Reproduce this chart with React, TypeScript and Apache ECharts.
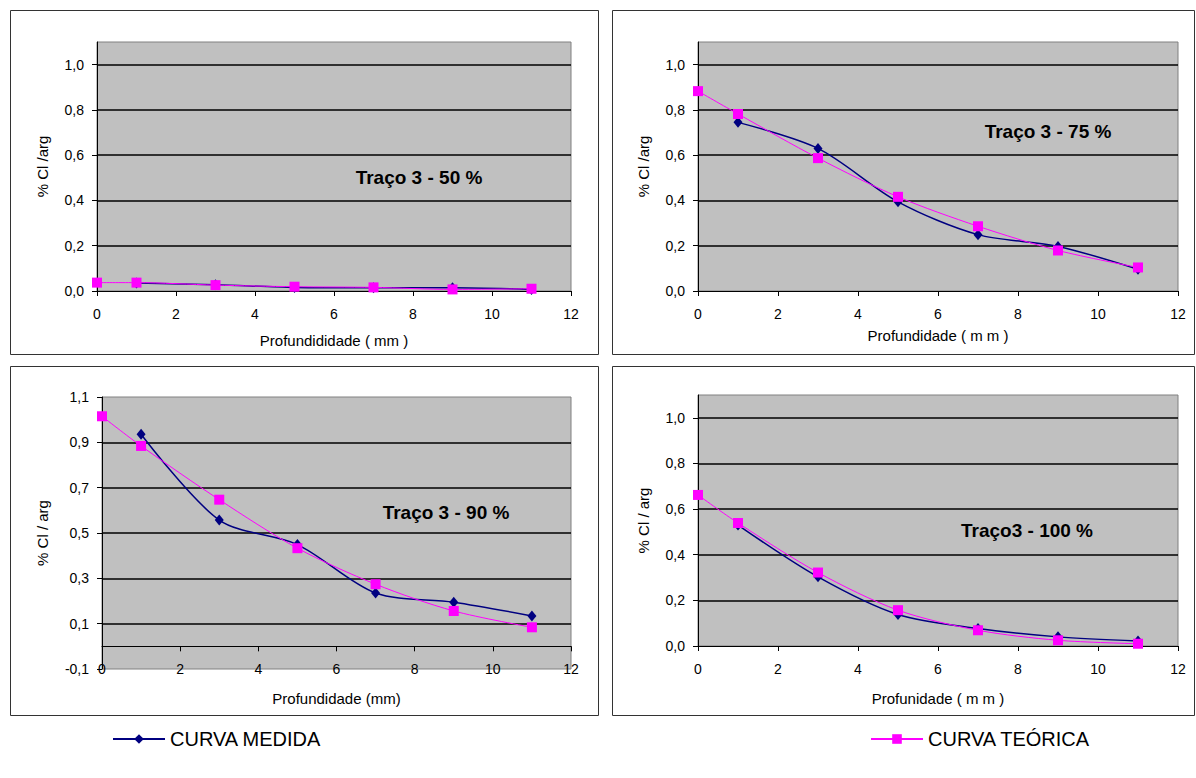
import React, { useEffect, useRef } from 'react';
import * as echarts from 'echarts';

// ---- data ----
const depthMedida = [1, 3, 5, 7, 9, 11];
const depthTeorica = [0, 1, 3, 5, 7, 9, 11];

const medida50 = [0.035, 0.028, 0.016, 0.014, 0.014, 0.007];
const teorica50 = [0.037, 0.037, 0.026, 0.019, 0.016, 0.007, 0.01];
const medida75 = [0.745, 0.63, 0.394, 0.249, 0.197, 0.096];
const teorica75 = [0.883, 0.782, 0.587, 0.416, 0.286, 0.179, 0.104];
const medida90 = [0.936, 0.557, 0.449, 0.235, 0.195, 0.134];
const teorica90 = [1.015, 0.884, 0.647, 0.433, 0.274, 0.156, 0.084];
const medida100 = [0.53, 0.303, 0.138, 0.077, 0.04, 0.022];
const teorica100 = [0.662, 0.539, 0.322, 0.157, 0.069, 0.025, 0.01];

const medidaSets = [medida50, medida75, medida90, medida100];
const teoricaSets = [teorica50, teorica75, teorica90, teorica100];

const panelTitles = ['Traço 3 - 50 %', 'Traço 3 - 75 %', 'Traço 3 - 90 %', 'Traço3 - 100 %'];
const xNames = ['Profundididade ( mm )', 'Profundidade ( m m )', 'Profundidade (mm)', 'Profunidade ( m m )'];
const yNames = ['% Cl /arg', '% Cl /arg', '% Cl / arg', '% Cl / arg'];
const yMins = [0, 0, -0.1, 0];
const yMax = 1.1;
const yStep = 0.2;
const xMin = 0;
const xMax = 12;
const xStep = 2;

const seriesNames = ['CURVA MEDIDA', 'CURVA TEÓRICA'];

// ---- layout ----
const grids = [
  { left: 97, top: 42, width: 474, height: 249 },
  { left: 698, top: 42, width: 480, height: 249 },
  { left: 102, top: 397, width: 469, height: 272 },
  { left: 698, top: 395, width: 480, height: 251 },
];
const panelBoxes = [
  { x: 10.5, y: 10.5, width: 588, height: 344 },
  { x: 612.5, y: 10.5, width: 582, height: 344 },
  { x: 10.5, y: 366.5, width: 588, height: 349 },
  { x: 612.5, y: 366.5, width: 582, height: 349 },
];
const titlePos = [
  [419, 177],
  [1048, 131],
  [446, 512],
  [1027, 530],
];
const yNameGaps = [47, 47, 52, 47];
const xNameGaps = [42, 37, 22, 45];
const xLabelMargins = [16, 16, -7, 16];

const FONT = '"Liberation Sans", Arial, sans-serif';
const BLUE = '#000080';
const PINK = '#ff00ff';

export default function App() {
  const ref = useRef<HTMLDivElement>(null);

  useEffect(() => {
    if (!ref.current) return;
    const chart = echarts.init(ref.current, undefined, { renderer: 'svg' });

    const fmt = (v: number) => v.toFixed(1).replace('.', ',');

    const xAxis = grids.map((_, i) => ({
      type: 'value',
      gridIndex: i,
      min: xMin,
      max: xMax,
      interval: xStep,
      name: xNames[i],
      nameLocation: 'middle',
      nameGap: xNameGaps[i],
      nameTextStyle: { fontFamily: FONT, fontSize: 15, color: '#000' },
      axisLine: { show: true, onZero: true, lineStyle: { color: '#000', width: 1 } },
      axisTick: { show: true, length: 5, lineStyle: { color: '#000' } },
      axisLabel: { fontFamily: FONT, fontSize: 14, color: '#000', margin: xLabelMargins[i] },
      splitLine: { show: false },
    }));

    const yAxis = grids.map((_, i) => ({
      type: 'value',
      gridIndex: i,
      min: yMins[i],
      max: yMax,
      interval: yStep,
      name: yNames[i],
      nameLocation: 'middle',
      nameGap: yNameGaps[i],
      nameTextStyle: { fontFamily: FONT, fontSize: 15, color: '#000' },
      axisLine: { show: true, lineStyle: { color: '#000', width: 1 } },
      axisTick: { show: true, length: 5, lineStyle: { color: '#000' } },
      axisLabel: {
        fontFamily: FONT,
        fontSize: 14,
        color: '#000',
        margin: 13,
        showMaxLabel: i === 2,
        formatter: (v: number) => fmt(v),
      },
      splitLine: {
        show: true,
        showMinLine: false,
        showMaxLine: false,
        lineStyle: { color: '#000', width: 1.5 },
      },
    }));

    const series: any[] = [];
    grids.forEach((_, i) => {
      series.push({
        name: seriesNames[0],
        type: 'line',
        xAxisIndex: i,
        yAxisIndex: i,
        data: depthMedida.map((d, k) => [d, medidaSets[i][k]]),
        smooth: 0.3,
        symbol: 'diamond',
        symbolSize: [9, 11],
        itemStyle: { color: BLUE },
        lineStyle: { color: BLUE, width: 1.5 },
        z: 3,
      });
      series.push({
        name: seriesNames[1],
        type: 'line',
        xAxisIndex: i,
        yAxisIndex: i,
        data: depthTeorica.map((d, k) => [d, teoricaSets[i][k]]),
        smooth: 0.3,
        symbol: 'rect',
        symbolSize: 10,
        itemStyle: { color: PINK },
        lineStyle: { color: PINK, width: 1 },
        z: 4,
      });
    });

    const graphic: any[] = [];
    panelBoxes.forEach((b) => {
      graphic.push({
        type: 'rect',
        shape: { x: b.x, y: b.y, width: b.width, height: b.height },
        style: { fill: 'none', stroke: '#333', lineWidth: 1 },
        silent: true,
        z: -10,
      });
    });
    panelTitles.forEach((t, i) => {
      graphic.push({
        type: 'text',
        x: titlePos[i][0],
        y: titlePos[i][1],
        style: {
          text: t,
          fontFamily: FONT,
          fontSize: 19,
          fontWeight: 'bold',
          fill: '#000',
          textAlign: 'center',
          textVerticalAlign: 'middle',
        },
        z: 10,
      });
    });

    const legendCommon = {
      orient: 'horizontal',
      top: 729,
      padding: 0,
      itemWidth: 52,
      itemHeight: 12,
      itemGap: 10,
      selectedMode: false,
      textStyle: { fontFamily: FONT, fontSize: 20, color: '#000' },
    };

    chart.setOption({
      animation: false,
      backgroundColor: '#fff',
      grid: grids.map((g) => ({
        ...g,
        show: true,
        backgroundColor: '#c0c0c0',
        borderColor: '#808080',
        borderWidth: 1,
        containLabel: false,
      })),
      xAxis,
      yAxis,
      series,
      graphic,
      legend: [
        { ...legendCommon, left: 112, data: [seriesNames[0]] },
        { ...legendCommon, left: 870, data: [seriesNames[1]] },
      ],
    });

    return () => chart.dispose();
  }, []);

  return (
    <div
      ref={ref}
      style={{ position: 'fixed', left: 0, top: 0, width: 1196, height: 778, background: '#fff' }}
    />
  );
}
